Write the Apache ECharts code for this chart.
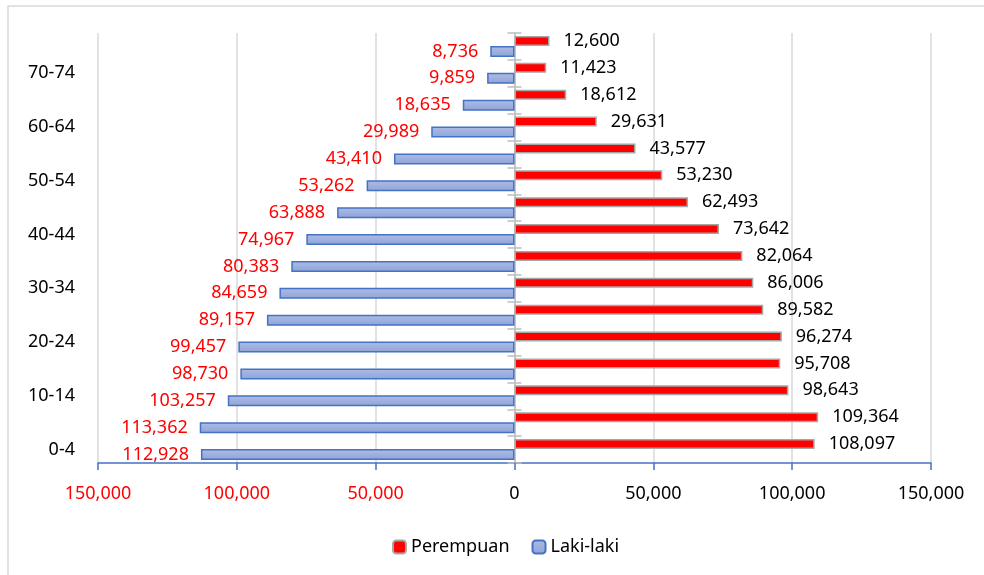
<!DOCTYPE html>
<html>
<head>
<meta charset="utf-8">
<script src="https://cdn.jsdelivr.net/npm/echarts@6/dist/echarts.min.js"></script>
<style>
  html, body { margin: 0; padding: 0; background: #fff; }
  #chart { width: 984px; height: 575px; }
</style>
</head>
<body>
<div id="chart"></div>
<script>
// age groups, bottom to top
const ageGroups = ['0-4', '5-9', '10-14', '15-19', '20-24', '25-29', '30-34', '35-39',
  '40-44', '45-49', '50-54', '55-59', '60-64', '65-69', '70-74', '75+'];

const perempuan = [108097, 109364, 98643, 95708, 96274, 89582, 86006, 82064,
  73642, 62493, 53230, 43577, 29631, 18612, 11423, 12600];

const lakiLaki = [112928, 113362, 103257, 98730, 99457, 89157, 84659, 80383,
  74967, 63888, 53262, 43410, 29989, 18635, 9859, 8736];

const FONT = '"Noto Sans", "Open Sans", sans-serif';
const fmt = v => Math.abs(v).toLocaleString('en-US');

let chart = echarts.init(document.getElementById('chart'));

chart.setOption({
  animation: false,
  textStyle: { fontFamily: FONT },
  graphic: [{
    type: 'rect',
    shape: { x: 8, y: 6, width: 1000, height: 600 },
    style: { fill: 'none', stroke: '#d9d9d9', lineWidth: 1.5 },
    silent: true
  }],
  grid: { left: 98, right: 53, top: 33, bottom: 112 },
  legend: {
    left: 387,
    top: 533,
    itemWidth: 13,
    itemHeight: 13,
    itemGap: 22,
    textStyle: { fontSize: 18, color: '#000', fontFamily: FONT },
    data: ['Perempuan', 'Laki-laki']
  },
  xAxis: {
    type: 'value',
    min: -150000,
    max: 150000,
    interval: 50000,
    axisLine: { show: true, onZero: false, lineStyle: { color: '#4472C4', width: 1.5 } },
    axisTick: { show: true, length: 7, lineStyle: { color: '#4472C4', width: 1.5 } },
    axisLabel: {
      fontSize: 18,
      margin: 22,
      formatter: fmt,
      color: v => (v < 0 ? '#ff0000' : '#000000')
    },
    splitLine: { show: true, lineStyle: { color: '#d9d9d9', width: 1.5 } }
  },
  yAxis: [
    {
      type: 'category',
      data: ageGroups,
      position: 'left',
      axisLine: { show: false, onZero: false },
      axisTick: { show: false },
      axisLabel: { interval: 1, fontSize: 18, color: '#000', margin: 23 },
      splitLine: { show: false }
    },
    {
      // zero line, ticks pointing left
      type: 'category',
      data: ageGroups,
      position: 'left',
      axisLine: { show: true, onZero: true, lineStyle: { color: '#bfbfbf', width: 1.5 } },
      axisTick: { show: true, length: 7, lineStyle: { color: '#bfbfbf', width: 1.5 } },
      axisLabel: { show: false },
      splitLine: { show: false }
    },
    {
      // ticks pointing right, shifted onto the zero line
      type: 'category',
      data: ageGroups,
      position: 'left',
      offset: -416.5,
      axisLine: { show: false, onZero: false },
      axisTick: { show: true, inside: true, length: 7, lineStyle: { color: '#bfbfbf', width: 1.5 } },
      axisLabel: { show: false },
      splitLine: { show: false }
    }
  ],
  series: [
    {
      name: 'Perempuan',
      type: 'bar',
      barWidth: 10,
      barGap: '0%',
      data: perempuan,
      itemStyle: { color: '#ff0000', borderColor: '#a6a6a6', borderWidth: 1.5 },
      label: {
        show: true,
        position: 'right',
        distance: 14,
        fontSize: 18,
        color: '#000',
        formatter: p => fmt(p.value)
      }
    },
    {
      name: 'Laki-laki',
      type: 'bar',
      barWidth: 11,
      barGap: '0%',
      data: lakiLaki.map(v => -v),
      itemStyle: {
        color: new echarts.graphic.LinearGradient(0, 0, 0, 1, [
          { offset: 0, color: '#aebde5' },
          { offset: 1, color: '#8ea3d8' }
        ]),
        borderColor: '#4472C4',
        borderWidth: 1.5
      },
      label: {
        show: true,
        position: 'left',
        distance: 12,
        fontSize: 18,
        color: '#ff0000',
        formatter: p => fmt(p.value)
      }
    }
  ]
});
</script>
</body>
</html>
